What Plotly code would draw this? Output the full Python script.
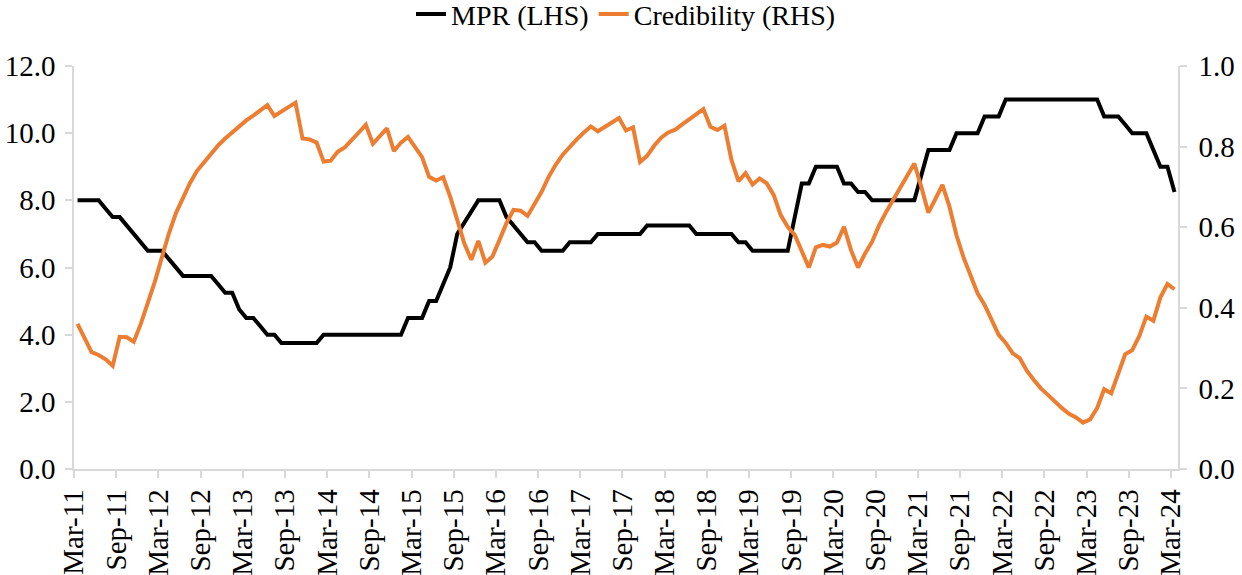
import pandas as pd
import plotly.graph_objects as go

# Monthly observations, Mar-2011 .. Mar-2024 (157 months)
months = pd.date_range("2011-03-01", periods=157, freq="MS")
month_labels = [d.strftime("%b-%y") for d in months]

mpr = [
    8.0, 8.0, 8.0, 8.0, 7.75, 7.5, 7.5, 7.25, 7.0, 6.75,
    6.5, 6.5, 6.5, 6.25, 6.0, 5.75, 5.75, 5.75, 5.75, 5.75,
    5.5, 5.25, 5.25, 4.75, 4.5, 4.5, 4.25, 4.0, 4.0, 3.75,
    3.75, 3.75, 3.75, 3.75, 3.75, 4.0, 4.0, 4.0, 4.0, 4.0,
    4.0, 4.0, 4.0, 4.0, 4.0, 4.0, 4.0, 4.5, 4.5, 4.5,
    5.0, 5.0, 5.5, 6.0, 7.0, 7.33, 7.67, 8.0, 8.0, 8.0,
    8.0, 7.5, 7.25, 7.0, 6.75, 6.75, 6.5, 6.5, 6.5, 6.5,
    6.75, 6.75, 6.75, 6.75, 7.0, 7.0, 7.0, 7.0, 7.0, 7.0,
    7.0, 7.25, 7.25, 7.25, 7.25, 7.25, 7.25, 7.25, 7.0, 7.0,
    7.0, 7.0, 7.0, 7.0, 6.75, 6.75, 6.5, 6.5, 6.5, 6.5,
    6.5, 6.5, 7.5, 8.5, 8.5, 9.0, 9.0, 9.0, 9.0, 8.5,
    8.5, 8.25, 8.25, 8.0, 8.0, 8.0, 8.0, 8.0, 8.0, 8.0,
    8.75, 9.5, 9.5, 9.5, 9.5, 10.0, 10.0, 10.0, 10.0, 10.5,
    10.5, 10.5, 11.0, 11.0, 11.0, 11.0, 11.0, 11.0, 11.0, 11.0,
    11.0, 11.0, 11.0, 11.0, 11.0, 11.0, 10.5, 10.5, 10.5, 10.25,
    10.0, 10.0, 10.0, 9.5, 9.0, 9.0, 8.25,
]

credibility = [
    0.36, 0.325, 0.29, 0.283, 0.272, 0.256, 0.328, 0.327, 0.316, 0.36,
    0.41, 0.465, 0.525, 0.585, 0.635, 0.675, 0.71, 0.74, 0.762, 0.782,
    0.803, 0.82, 0.836, 0.851, 0.865, 0.877, 0.889, 0.903, 0.876, 0.887,
    0.898, 0.909, 0.82, 0.818, 0.81, 0.763, 0.765, 0.787, 0.798, 0.815,
    0.835, 0.854, 0.807, 0.826, 0.845, 0.789, 0.81, 0.824, 0.798, 0.774,
    0.725, 0.716, 0.724, 0.676, 0.618, 0.56, 0.519, 0.566, 0.512, 0.527,
    0.568, 0.61, 0.643, 0.641, 0.628, 0.659, 0.688, 0.725, 0.755, 0.78,
    0.80, 0.818, 0.835, 0.85, 0.838, 0.849, 0.86, 0.871, 0.84, 0.848,
    0.762, 0.777, 0.802, 0.822, 0.835, 0.842, 0.855, 0.867, 0.88, 0.893,
    0.849, 0.841, 0.852, 0.767, 0.714, 0.734, 0.706, 0.721, 0.709, 0.68,
    0.63, 0.601, 0.581, 0.539, 0.5, 0.55, 0.556, 0.552, 0.562, 0.601,
    0.543, 0.5, 0.535, 0.564, 0.605, 0.638, 0.668, 0.70, 0.73, 0.758,
    0.70, 0.636, 0.67, 0.705, 0.651, 0.58, 0.525, 0.477, 0.436, 0.407,
    0.37, 0.333, 0.313, 0.287, 0.275, 0.244, 0.221, 0.20, 0.184, 0.167,
    0.151, 0.137, 0.128, 0.115, 0.123, 0.151, 0.198, 0.188, 0.239, 0.285,
    0.295, 0.33, 0.378, 0.368, 0.426, 0.459, 0.446,
]

left_ticks = [0, 2, 4, 6, 8, 10, 12]
right_ticks = [0, 0.2, 0.4, 0.6, 0.8, 1.0]

x_idx = list(range(len(months)))
tick_pos = [i - 0.5 for i in range(0, len(months), 6)]
tick_txt = [month_labels[i] for i in range(0, len(months), 6)]

FONT = "Liberation Serif, Times New Roman, serif"
AXIS_GREY = "#d9d9d9"
TICK_SIZE = 29

fig = go.Figure()
fig.add_trace(go.Scatter(
    x=x_idx, y=mpr, name="MPR (LHS)", mode="lines",
    line=dict(color="#000000", width=4), yaxis="y",
))
fig.add_trace(go.Scatter(
    x=x_idx, y=credibility, name="Credibility (RHS)", mode="lines",
    line=dict(color="#ED7D31", width=4), yaxis="y2",
))

common = dict(
    ticks="outside", ticklen=7, tickcolor=AXIS_GREY, tickwidth=1.5,
    showline=True, linecolor=AXIS_GREY, linewidth=1.5,
    showgrid=False, zeroline=False, automargin=False,
    tickfont=dict(family=FONT, size=TICK_SIZE, color="#000000"),
)

fig.update_layout(
    width=1242, height=575,
    margin=dict(l=74, r=64, t=66, b=106, autoexpand=False),
    paper_bgcolor="white", plot_bgcolor="white",
    font=dict(family=FONT, size=28, color="#000000"),
    showlegend=True,
    legend=dict(
        orientation="h", x=0.5, xanchor="center", y=1.128, yanchor="middle",
        font=dict(family=FONT, size=28, color="#000000"),
        bgcolor="rgba(0,0,0,0)",
    ),
    xaxis=dict(
        range=[-0.5, len(months) - 0.5],
        tickmode="array", tickvals=tick_pos, ticktext=tick_txt,
        tickangle=-90, **common,
    ),
    yaxis=dict(
        range=[0, 12], tickmode="array", tickvals=left_ticks,
        tickformat=".1f", ticklabelstandoff=4, **common,
    ),
    yaxis2=dict(
        range=[0, 1], tickmode="array", tickvals=right_ticks,
        tickformat=".1f", ticklabelstandoff=6,
        overlaying="y", side="right", anchor="x", **common,
    ),
)

fig.write_html(
    "out.html",
    config={"displayModeBar": False},
    post_script="document.body.style.margin='0';document.body.style.overflow='hidden';",
)
